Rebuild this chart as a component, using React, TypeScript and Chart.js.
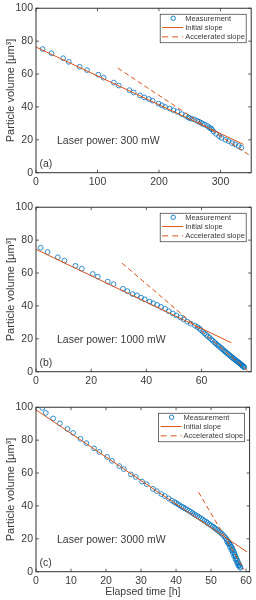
import React, { useEffect, useRef } from 'react';
import { Chart, registerables } from 'chart.js';

Chart.register(...registerables);

const FONT = '"Liberation Sans", Arial, Helvetica, sans-serif';
const TEXT = '#3a3a3a';
const FRAME = '#333333';
const BLUE = '#0072BD';
const ORANGE = '#D95319';

// ---------- Panel (a): 300 mW ----------
const timeA = [10.8, 25.3, 44.2, 53.3, 71.1, 82.9, 101.2, 109.9, 126.5, 134.6, 151.9, 158.9, 169, 176, 183.6, 189.6,
  199.2, 204.6, 210, 217.6, 223.5, 230, 237, 243.4, 247.7, 249.9, 253, 257.4, 262, 265, 268, 271, 274.6, 279, 282,
  284, 286, 289, 293, 297.8, 301.6, 308, 313.4, 318.8, 324, 329.6, 333.9];
const volA = [75.2, 72.6, 69.6, 67.4, 64.4, 62.4, 59.6, 57.8, 54.8, 53, 50.2, 48.8, 47, 45.8, 44.8, 43.8,
  42, 41, 40, 39, 38, 37, 35.6, 34.6, 33.6, 33.2, 32.8, 32.4, 31.6, 31, 30.4, 29.8, 29.2, 28.4, 27.4,
  27, 26.4, 25, 23.6, 22.2, 21.2, 20, 19.2, 18, 17.2, 16.2, 15.2];
const initA_x = [0, 337.6];
const initA_y = [76.4, 17.2];
const accA_x = [133, 350];
const accA_y = [63.6, 9.9];

// ---------- Panel (b): 1000 mW ----------
const timeB = [1.7, 4.2, 7.9, 10.3, 14.3, 16.6, 20.6, 22.4, 26, 28.1, 31.5, 33.1, 35, 36.6, 38.1, 39.4, 41.2, 42.5,
  43.9, 45.3, 46.8, 48.1, 49.6, 50.9, 52.4, 53.5, 54.8, 56.1, 57.6, 58.5, 59.2, 59.8, 60.5, 61.1, 61.7, 62.3, 62.9,
  63.5, 64.0, 64.6, 65.1, 65.6, 66.1, 66.6, 67.1, 67.5, 68.0, 68.4, 68.8, 69.2, 69.6, 70.0, 70.4, 70.8, 71.2, 71.5,
  71.9, 72.2, 72.5, 72.9, 73.2, 73.5, 73.8, 74.1, 74.4, 74.6, 74.9, 75.1, 75.3, 75.5];
const volB = [75.4, 72.8, 69.6, 67.6, 64.4, 62.6, 59.4, 57.8, 54.8, 53.2, 50.4, 49, 47.2, 46.4, 45, 44, 42.6, 41.6,
  40.6, 39.4, 38.2, 36.8, 35.4, 34.2, 33, 31.8, 30.4, 29.2, 28, 27.2, 26.3, 25.3, 24.2, 23.3, 22.4, 21.5, 20.6,
  19.7, 18.9, 18.0, 17.3, 16.5, 15.8, 15.1, 14.4, 13.8, 13.1, 12.5, 11.9, 11.4, 10.8, 10.2, 9.7, 9.1, 8.6, 8.1,
  7.6, 7.2, 6.8, 6.3, 5.9, 5.5, 5.1, 4.7, 4.3, 4.0, 3.6, 3.3, 3.0, 2.7];
const initB_x = [0, 70.8];
const initB_y = [74.4, 17.6];
const accB_x = [31.2, 77.2];
const accB_y = [66, 0];

// ---------- Panel (c): 3000 mW ----------
const timeC = [1.8, 2.8, 4.9, 6.8, 9, 10.6, 12.7, 14.4, 16.6, 18.1, 20.3, 21.7, 23.8, 25.1, 27.1, 28.5, 30.3, 31.6,
  33.4, 34.5, 35.8, 36.8, 37.9, 38.8, 39.5, 40, 40.5, 41, 41.6, 42.1, 42.6, 43.1, 43.7, 44.2, 44.7, 45.1, 45.6, 46.1,
  46.6, 47.1, 47.6, 48.1, 48.6, 49, 49.5, 50, 50.5, 50.9, 51.3, 51.7, 52.2, 52.6, 53, 53.4, 53.8, 54.2, 54.5, 54.9,
  55.2, 55.5, 55.8, 56.1, 56.3, 56.6, 56.8, 57.0, 57.2, 57.5, 57.7, 57.9, 58.1, 58.3, 58.4,
  54.6, 55.0, 55.4, 55.8, 56.2, 56.6, 57.0, 57.4, 57.8];
const volC = [99.6, 96.6, 93.2, 90.2, 86.8, 84.4, 80.8, 78.2, 75, 72.8, 69.8, 67.4, 64.2, 62.4, 59.2, 57.6, 54.8, 53.2,
  50.4, 49, 47.2, 46, 44.6, 43.2, 42.4, 41.8, 41.1, 40.4, 39.6, 39, 38.4, 37.8, 37.1, 36.4, 35.7, 35, 34.4, 33.8,
  33.1, 32.4, 31.7, 31, 30.3, 29.6, 28.9, 28.2, 27.5, 26.8, 26.1, 25.4, 24.7, 24, 23.2, 22.4, 21.4, 20.4, 19.5, 18.4,
  17.4, 16.4, 15.2, 14, 13.0, 11.6, 10.4, 9.2, 8.0, 6.8, 5.8, 4.8, 3.8, 3.0, 2.4,
  18.2, 16.8, 15.0, 13.2, 11.4, 9.4, 7.4, 5.4, 3.6];
const initC_x = [0, 60.3];
const initC_y = [98.4, 12.0];
const accC_x = [46.4, 59.4];
const accC_y = [48.4, 1.4];

// ---------- Axis / label settings ----------
const yTicksStep = 20;
const legendLabels = ['Measurement', 'Initial slope', 'Accelerated slope'];

type Panel = {
  top: number;
  height: number;
  xMax: number;
  xStep: number;
  power: string;
  tag: string;
  xTitle: boolean;
  tx: number[];
  vy: number[];
  ix: number[];
  iy: number[];
  ax: number[];
  ay: number[];
};

const panels: Panel[] = [
  { top: 0, height: 199, xMax: 350, xStep: 100, power: 'Laser power: 300 mW', tag: '(a)', xTitle: false,
    tx: timeA, vy: volA, ix: initA_x, iy: initA_y, ax: accA_x, ay: accA_y },
  { top: 199, height: 200, xMax: 78, xStep: 20, power: 'Laser power: 1000 mW', tag: '(b)', xTitle: false,
    tx: timeB, vy: volB, ix: initB_x, iy: initB_y, ax: accB_x, ay: accB_y },
  { top: 399, height: 201, xMax: 61, xStep: 10, power: 'Laser power: 3000 mW', tag: '(c)', xTitle: true,
    tx: timeC, vy: volC, ix: initC_x, iy: initC_y, ax: accC_x, ay: accC_y },
];

const PLOT_TOP = 6;
const PLOT_H = 166.7;

const decor = {
  id: 'decor',
  afterDatasetsDraw(chart: any, _args: any, opts: any) {
    const { ctx, chartArea } = chart;
    const { left, right, top, bottom } = chartArea;
    const xs = chart.scales.x;
    const ys = chart.scales.y;
    ctx.save();
    // inward ticks on all four sides
    ctx.strokeStyle = FRAME;
    ctx.lineWidth = 0.8;
    const L = 3;
    ctx.beginPath();
    xs.ticks.forEach((t: any) => {
      const px = xs.getPixelForValue(t.value);
      ctx.moveTo(px, bottom);
      ctx.lineTo(px, bottom - L);
      ctx.moveTo(px, top);
      ctx.lineTo(px, top + L);
    });
    ys.ticks.forEach((t: any) => {
      const py = ys.getPixelForValue(t.value);
      ctx.moveTo(left, py);
      ctx.lineTo(left + L, py);
      ctx.moveTo(right, py);
      ctx.lineTo(right - L, py);
    });
    ctx.stroke();
    // box
    ctx.lineWidth = 1;
    ctx.strokeRect(left, top, right - left, bottom - top);

    // annotations
    ctx.fillStyle = TEXT;
    ctx.font = `10.5px ${FONT}`;
    ctx.textBaseline = 'middle';
    ctx.textAlign = 'left';
    ctx.fillText(opts.power, left + 21, top + 133);
    ctx.fillText(opts.tag, left + 3.5, top + 156);

    // legend
    const lw = 86;
    const lh = 28.5;
    const lx = right - 5 - lw;
    const ly = top + 6;
    ctx.fillStyle = '#ffffff';
    ctx.fillRect(lx, ly, lw, lh);
    ctx.strokeStyle = FRAME;
    ctx.lineWidth = 0.7;
    ctx.strokeRect(lx, ly, lw, lh);
    const rows = [ly + 4, ly + 13.3, ly + 22.6];
    // measurement marker
    ctx.strokeStyle = BLUE;
    ctx.lineWidth = 0.9;
    ctx.beginPath();
    ctx.arc(lx + 13, rows[0], 2.2, 0, Math.PI * 2);
    ctx.stroke();
    // initial slope sample
    ctx.strokeStyle = ORANGE;
    ctx.lineWidth = 1;
    ctx.beginPath();
    ctx.moveTo(lx + 2, rows[1]);
    ctx.lineTo(lx + 23, rows[1]);
    ctx.stroke();
    // accelerated sample
    ctx.setLineDash([6, 4]);
    ctx.beginPath();
    ctx.moveTo(lx + 2, rows[2]);
    ctx.lineTo(lx + 23, rows[2]);
    ctx.stroke();
    ctx.setLineDash([]);
    ctx.fillStyle = TEXT;
    ctx.font = `7.5px ${FONT}`;
    legendLabels.forEach((s, i) => ctx.fillText(s, lx + 25, rows[i] + 0.3));
    ctx.restore();
  },
};

function PanelChart({ p }: { p: Panel }) {
  const ref = useRef<HTMLCanvasElement | null>(null);
  useEffect(() => {
    if (!ref.current) return;
    const xAxisH = p.height - PLOT_TOP - PLOT_H;
    const chart = new Chart(ref.current, {
      type: 'scatter',
      data: {
        datasets: [
          {
            label: 'Initial slope',
            data: p.ix.map((x, i) => ({ x, y: p.iy[i] })),
            showLine: true,
            borderColor: ORANGE,
            borderWidth: 1,
            pointRadius: 0,
            order: 0,
          },
          {
            label: 'Accelerated slope',
            data: p.ax.map((x, i) => ({ x, y: p.ay[i] })),
            showLine: true,
            borderColor: ORANGE,
            borderWidth: 1,
            borderDash: [5, 3],
            pointRadius: 0,
            order: 0,
          },
          {
            label: 'Measurement',
            data: p.tx.map((x, i) => ({ x, y: p.vy[i] })),
            borderColor: BLUE,
            backgroundColor: 'rgba(0,0,0,0)',
            borderWidth: 0.8,
            pointRadius: 2.4,
            pointStyle: 'circle',
            order: 2,
          },
        ],
      } as any,
      options: {
        responsive: false,
        animation: false,
        devicePixelRatio: 1,
        layout: { padding: { top: PLOT_TOP, right: 4, left: 0, bottom: 0 } },
        plugins: {
          legend: { display: false },
          tooltip: { enabled: false },
          decor: { power: p.power, tag: p.tag },
        } as any,
        scales: {
          x: {
            type: 'linear',
            min: 0,
            max: p.xMax,
            ticks: {
              stepSize: p.xStep,
              includeBounds: false,
              color: TEXT,
              font: { family: FONT, size: 10.5, lineHeight: 1 },
              padding: 4,
              maxRotation: 0,
              autoSkip: false,
            },
            grid: { display: false, drawTicks: false },
            border: { display: false },
            title: {
              display: p.xTitle,
              text: 'Elapsed time [h]',
              color: TEXT,
              font: { family: FONT, size: 10.5 },
              padding: { top: 0, bottom: 2 },
            },
            afterFit: (s: any) => {
              s.height = xAxisH;
            },
          },
          y: {
            type: 'linear',
            min: 0,
            max: 100,
            ticks: {
              stepSize: yTicksStep,
              includeBounds: false,
              color: TEXT,
              font: { family: FONT, size: 10.5, lineHeight: 1 },
              padding: 3,
            },
            grid: { display: false, drawTicks: false },
            border: { display: false },
            title: {
              display: true,
              text: 'Particle volume [μm³]',
              color: TEXT,
              font: { family: FONT, size: 11 },
              padding: { top: 4, bottom: 0 },
            },
            afterFit: (s: any) => {
              s.width = 36;
            },
          },
        },
      } as any,
      plugins: [decor],
    });
    return () => chart.destroy();
  }, [p]);
  return (
    <div style={{ position: 'absolute', left: 0, top: p.top, width: 256, height: p.height }}>
      <canvas ref={ref} width={256} height={p.height} style={{ display: 'block' }} />
    </div>
  );
}

export default function App() {
  return (
    <div style={{ position: 'absolute', left: 0, top: 0, width: 256, height: 600, background: '#ffffff' }}>
      {panels.map((p, i) => (
        <PanelChart key={i} p={p} />
      ))}
    </div>
  );
}
